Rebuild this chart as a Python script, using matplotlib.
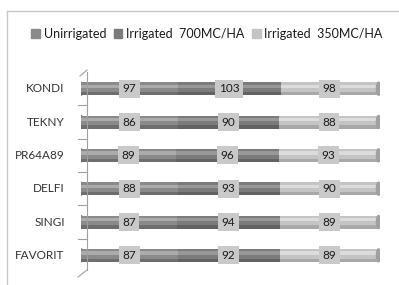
import matplotlib.pyplot as plt
import numpy as np
from matplotlib.patches import Rectangle, Ellipse
from matplotlib.lines import Line2D

plt.rcParams["font.family"] = ["Lato", "DejaVu Sans"]

varieties = ["KONDI", "TEKNY", "PR64A89", "DELFI", "SINGI", "FAVORIT"]
unirrigated = [97, 86, 89, 88, 87, 87]
irrigated_700 = [103, 90, 96, 93, 94, 92]
irrigated_350 = [98, 88, 93, 90, 89, 89]
series_names = ["Unirrigated", "Irrigated  700MC/HA", "Irrigated  350MC/HA"]
colors = ["#8a8a8a", "#7b7b7b", "#c4c4c4"]
highlights = ["#ababab", "#989898", "#dcdcdc"]
shadows = ["#6e6e6e", "#626262", "#a8a8a8"]

fig = plt.figure(figsize=(3.99, 2.85), dpi=100)
fig.patch.set_facecolor("white")

# outer frame (left and top edges visible)
fig.add_artist(Line2D([7 / 399, 7 / 399], [0, 1 - 11 / 285], color="#c8c8c8", lw=1))
fig.add_artist(Line2D([7 / 399, 1], [1 - 11 / 285, 1 - 11 / 285], color="#c8c8c8", lw=1))

ax = fig.add_axes([81 / 399, 1 - 272 / 285, 299 / 399, 200 / 285])
ax.set_xlim(0, 1.005)
ax.set_ylim(len(varieties) - 0.5, -0.5)
ax.axis("off")

data = np.array([unirrigated, irrigated_700, irrigated_350], dtype=float)
totals = data.sum(axis=0)
shares = data / totals
h = 0.39
y = np.arange(len(varieties))

left = np.zeros(len(varieties))
for k in range(3):
    ax.barh(y, shares[k], left=left, height=h, color=colors[k], zorder=2)
    # cylinder shading
    ax.barh(y - h * 0.18, shares[k], left=left, height=h * 0.28, color=highlights[k], zorder=3)
    ax.barh(y + h * 0.38, shares[k], left=left, height=h * 0.24, color=shadows[k], zorder=3)
    for i in range(len(varieties)):
        cx = left[i] + shares[k][i] / 2
        ax.text(cx, y[i], f"{int(data[k][i])}", ha="center", va="center", fontsize=8.5,
                color="#1a1a1a", zorder=6,
                bbox=dict(boxstyle="square,pad=0.3", fc="#c9c9c9", ec="none"))
    left += shares[k]

# rounded ends of the cylinders
for i in range(len(varieties)):
    ax.add_patch(Ellipse((1.0, y[i]), 0.014, h, color="#a0a0a0", zorder=4))
    ax.add_patch(Ellipse((0.0, y[i]), 0.014, h, color="#7a7a7a", zorder=1))

for i, name in enumerate(varieties):
    ax.text(-0.055, y[i], name, ha="right", va="center", fontsize=8.5, color="#333333")

# 3D wall line with ticks
wx = 87 / 399
fig.add_artist(Line2D([wx, wx], [1 - 72 / 285, 1 - 270 / 285], color="#a0a0a0", lw=0.8))
fig.add_artist(Line2D([wx, 80 / 399], [1 - 70 / 285, 1 - 76 / 285], color="#a0a0a0", lw=0.8))
fig.add_artist(Line2D([wx, 78 / 399], [1 - 270 / 285, 1 - 277 / 285], color="#a0a0a0", lw=0.8))
for b in np.arange(0.5, len(varieties) - 0.5, 1.0):
    yy = 1 - (72 + (b + 0.5) * 200 / 6) / 285
    fig.add_artist(Line2D([78 / 399, wx], [yy, yy], color="#a0a0a0", lw=0.8))

handles = [Rectangle((0, 0), 1, 1, color=c) for c in colors]
fig.legend(handles, series_names, loc="center", bbox_to_anchor=(207 / 399, 1 - 34 / 285),
           ncol=3, frameon=False, fontsize=9, handlelength=0.7, handleheight=0.7,
           handletextpad=0.3, columnspacing=0.6, labelcolor="#1a1a1a")

fig.savefig("out.png", dpi=100)
